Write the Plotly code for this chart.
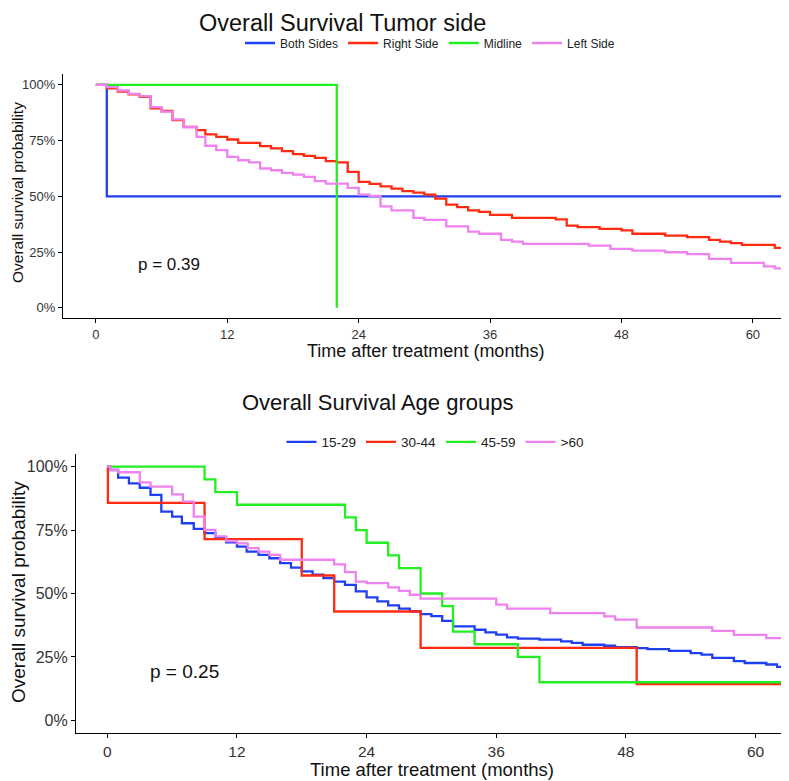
import plotly.graph_objects as go

# ---------------- DATA ----------------
# Top panel: Overall Survival by tumor side (time in months, survival in %)
both_t = [0, 1, 63.5]
both_s = [100, 50, 50]

right_t = [0, 1, 2, 3, 4, 5, 6, 7, 8, 9.2, 10, 11, 12, 13, 15, 16, 17, 18, 19, 20, 21, 22, 23, 24,
           25, 26, 27, 28, 29, 30, 31, 32, 33, 34, 35, 36, 38, 42, 43, 44, 46, 48, 49, 52, 54, 56,
           57, 58, 59, 62, 63.5]
right_s = [100, 98.5, 97.0, 95.8, 94.7, 89.5, 88.3, 84.2, 81.2, 79.7, 77.8, 76.7, 75.5, 74.0, 72.5,
           71.5, 70.3, 68.9, 68.2, 67.3, 65.8, 65.2, 61.0, 56.5, 55.6, 54.5, 53.5, 52.3, 51.7, 50.8,
           49.0, 46.3, 45.2, 43.7, 43.0, 41.7, 40.3, 39.7, 36.9, 36.2, 35.4, 34.7, 33.2, 32.4, 31.7,
           30.5, 29.7, 29.0, 28.2, 26.9, 26.9]

mid_t = [0, 22]
mid_s = [100, 0]

left_t = [0, 1, 2, 3, 4, 5, 6, 7, 8, 9.2, 10, 11, 12, 13, 14, 15, 16, 17, 18, 19, 20, 21, 23, 24,
          25, 26, 27, 29, 30, 32, 34, 35, 37, 38, 39, 45, 47, 49, 52, 54, 56, 58, 61, 62, 63.5]
left_s = [100, 99, 97.5, 96, 95, 90, 88, 84.5, 81, 76.7, 72.7, 70.7, 67.7, 66.2, 65.2, 62.5, 61.7,
          60.5, 59.7, 58.7, 56.8, 55.7, 53.8, 50.8, 50.2, 45.5, 43.7, 40.3, 39.4, 36.5, 34.2, 33.2,
          30.5, 29.7, 28.7, 27.9, 26.4, 25.6, 24.9, 24.1, 21.9, 20.1, 18.6, 17.7, 17.7]

# Bottom panel: Overall Survival by age group
a1_t = [0, 0.3, 1, 2, 3, 4, 5, 6, 6.9, 8, 9, 10, 11, 12, 12.9, 14, 15, 16, 17, 18, 19, 20, 21, 22,
        23, 24, 25, 26, 27, 28, 29, 30, 31, 32, 34, 35, 36, 37, 38, 40, 42, 43, 44, 46, 47, 49, 50,
        52, 54, 55, 56, 58, 59, 61, 62, 63.5]
a1_s = [100, 98.7, 95.7, 93.4, 91.7, 88.9, 82.3, 80.3, 77.7, 75.5, 73.8, 71.8, 70.2, 68.5, 66.5,
        65.2, 63.9, 62.0, 60.2, 58.7, 57.4, 56.1, 54.7, 53.4, 50.8, 48.5, 46.9, 45.3, 44.0, 43.0,
        41.9, 41.1, 39.2, 37.0, 35.7, 34.7, 33.8, 32.7, 32.2, 31.8, 31.1, 30.5, 29.8, 29.4, 28.8,
        28.5, 28.1, 27.4, 26.5, 25.9, 24.6, 23.3, 22.6, 22.0, 21.1, 21.1]

a2_t = [0, 0.05, 9, 18, 21, 29, 49, 63.5]
a2_s = [100, 85.7, 71.4, 57.1, 42.9, 28.6, 14.3, 14.3]

a3_t = [0, 9, 10, 12, 22, 23, 24, 26, 27, 29, 31, 32, 34, 38, 40, 63.5]
a3_s = [100, 95, 90, 85, 80, 75, 70, 65, 60, 50, 45, 35, 30, 25, 15, 15]

a4_t = [0, 0.3, 1, 3, 4, 6, 7, 8, 9, 10, 11, 12, 13, 14, 15, 16, 21, 22, 23, 24, 26, 27, 28, 29,
        36, 37, 41, 46, 47, 49, 56, 58, 61, 62.8, 63.5]
a4_s = [100, 98.8, 97.8, 93.8, 92.1, 89.1, 86.2, 80.3, 75.1, 72.5, 70.7, 69.8, 67.9, 66.5, 65.2,
        63.3, 61.5, 58.4, 54.7, 54.1, 52.4, 51.0, 49.5, 48.0, 45.6, 44.0, 42.3, 41.0, 39.7, 36.6,
        35.3, 33.7, 32.4, 31.1, 31.1]

top_names = ["Both Sides", "Right Side", "Midline", "Left Side"]
bot_names = ["15-29", "30-44", "45-59", ">60"]
colors = ["#1f3ff2", "#ff2a0f", "#22ee22", "#ee82ee"]
x_ticks = [0, 12, 24, 36, 48, 60]
y_ticks = [0, 25, 50, 75, 100]
y_tick_labels = ["0%", "25%", "50%", "75%", "100%"]

FONT = "Liberation Sans, Arial, sans-serif"

fig = go.Figure()

top_series = [(both_t, both_s), (right_t, right_s), (mid_t, mid_s), (left_t, left_s)]
for (t, s), name, c in zip(top_series, top_names, colors):
    fig.add_trace(go.Scatter(x=t, y=s, mode="lines", line=dict(color=c, width=2.3, shape="hv"),
                             name=name, xaxis="x", yaxis="y", legend="legend"))

bot_series = [(a1_t, a1_s), (a2_t, a2_s), (a3_t, a3_s), (a4_t, a4_s)]
for (t, s), name, c in zip(bot_series, bot_names, colors):
    fig.add_trace(go.Scatter(x=t, y=s, mode="lines", line=dict(color=c, width=2.3, shape="hv"),
                             name=name, xaxis="x2", yaxis="y2", legend="legend2"))

# page has an 8px body margin: figure coordinates = screen coordinates - 8
W, H = 781, 773
OFF = 8

def px(x):
    return (x - OFF) / W

def py(y):
    return 1 - (y - OFF) / H

def axis_common():
    return dict(showgrid=False, zeroline=False, showline=True, linecolor="black", linewidth=1.2,
                ticks="outside", ticklen=4, tickcolor="black", tickwidth=1, mirror=False)

fig.update_layout(
    width=W, height=H,
    margin=dict(l=0, r=0, t=0, b=0),
    paper_bgcolor="white", plot_bgcolor="white",
    font=dict(family=FONT, color="#222222"),
    xaxis=dict(domain=[px(63), 1], range=[-3.0, 63.3], tickvals=x_ticks,
               tickfont=dict(size=13, color="#333333"), anchor="y", **axis_common()),
    yaxis=dict(domain=[py(318), py(74)], range=[-4.6, 104.9], tickvals=y_ticks, ticktext=y_tick_labels,
               tickfont=dict(size=13, color="#333333"), anchor="x", **axis_common()),
    xaxis2=dict(domain=[px(76), 1], range=[-2.9, 63.1], tickvals=x_ticks,
                tickfont=dict(size=15.5, color="#333333"), anchor="y2", **axis_common()),
    yaxis2=dict(domain=[py(733), py(454)], range=[-5, 105], tickvals=y_ticks, ticktext=y_tick_labels,
                tickfont=dict(size=16, color="#333333"), anchor="x2", **axis_common()),
    legend=dict(orientation="h", x=px(430), y=py(43), xanchor="center", yanchor="middle",
                font=dict(size=12, color="#222222"), itemwidth=30, bgcolor="rgba(0,0,0,0)"),
    legend2=dict(orientation="h", x=px(435), y=py(442), xanchor="center", yanchor="middle",
                 font=dict(size=13.5, color="#222222"), itemwidth=30, bgcolor="rgba(0,0,0,0)"),
    showlegend=True,
)

def label(text, x, y, size, angle=0, anchor_y="middle"):
    fig.add_annotation(text=text, xref="paper", yref="paper", x=x, y=y, xanchor="center",
                       yanchor=anchor_y, showarrow=False, textangle=angle,
                       font=dict(size=size, color="#111111"))

label("Overall Survival Tumor side", px(342), 1.0, 23.5, anchor_y="top")
label("Overall Survival Age groups", px(377), py(402), 22)
label("Time after treatment (months)", px(426), py(351), 18)
label("Time after treatment (months)", px(432), py(769), 18.5)
label("Overall survival probability", px(18), py(193), 15.5, angle=-90)
label("Overall survival probability", px(18), py(592), 19, angle=-90)

fig.add_annotation(text="p = 0.39", xref="x", yref="y", x=6.7, y=19.4, showarrow=False,
                   xanchor="center", yanchor="middle", font=dict(size=17, color="#111111"))
fig.add_annotation(text="p = 0.25", xref="x2", yref="y2", x=7.1, y=19.2, showarrow=False,
                   xanchor="center", yanchor="middle", font=dict(size=19, color="#111111"))

fig.write_html("out.html")
